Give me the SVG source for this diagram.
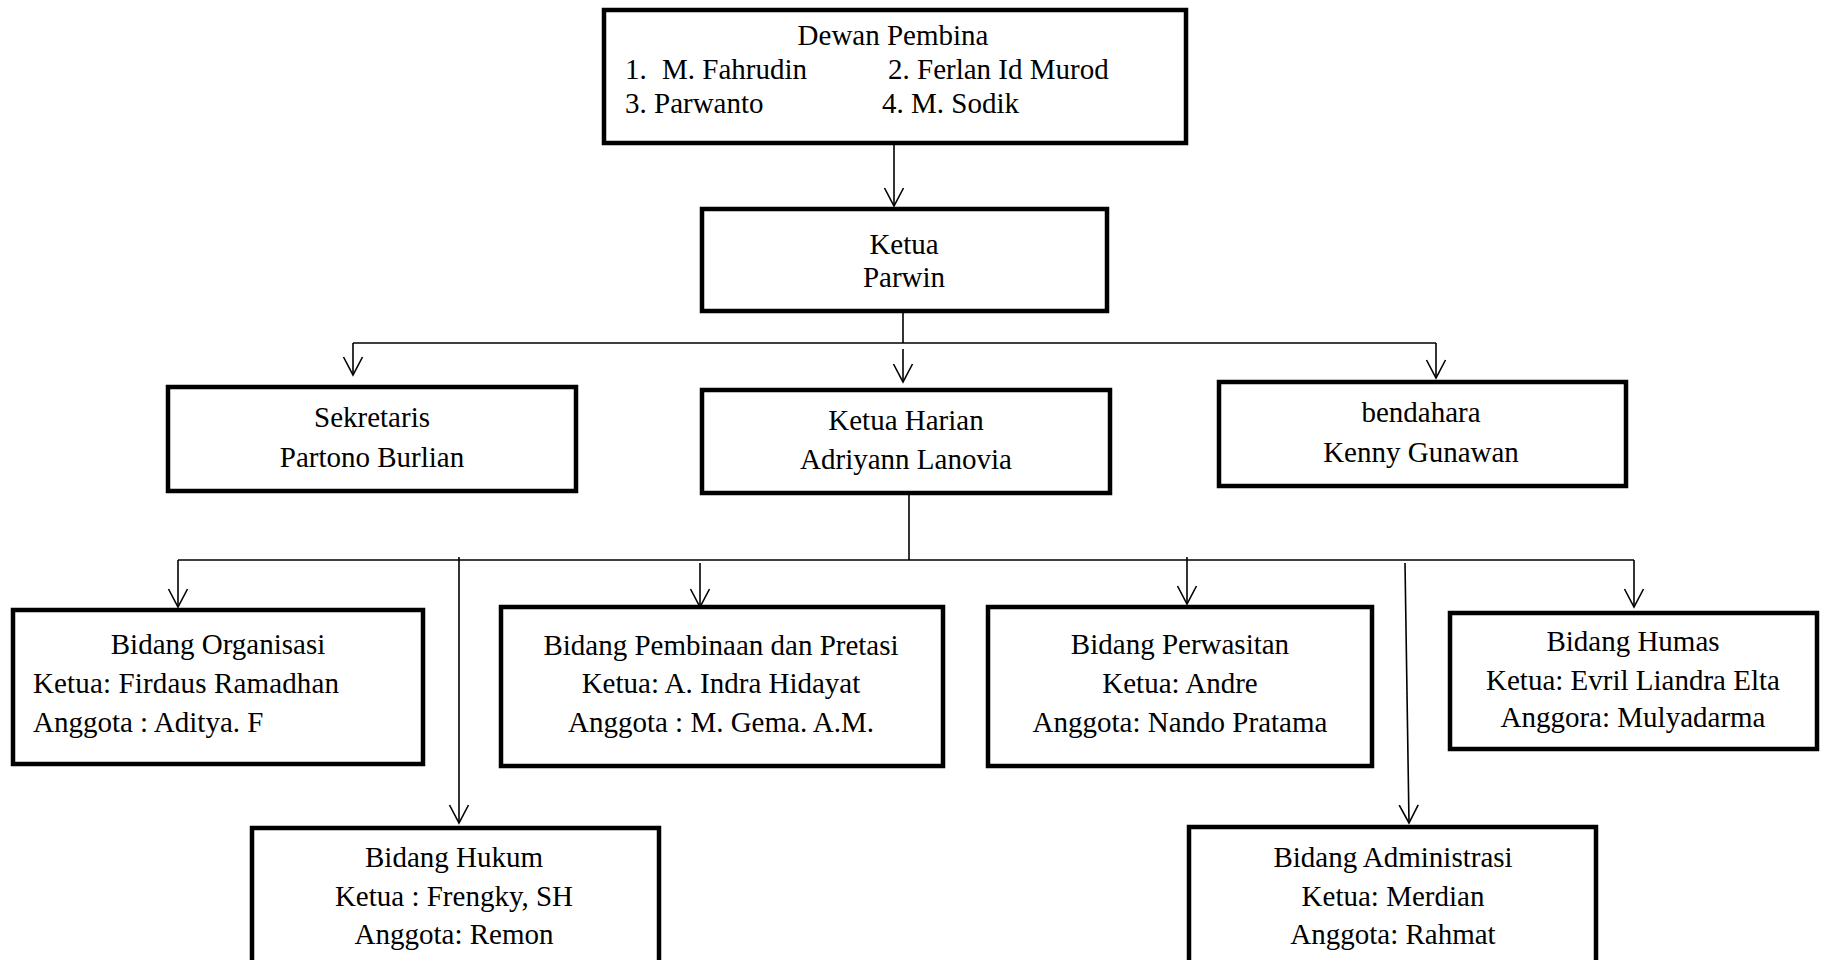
<svg xmlns="http://www.w3.org/2000/svg" width="1825" height="960" viewBox="0 0 1825 960">
<style>
.box{fill:#fff;stroke:#000;stroke-width:4.5}
.t{font-family:"Liberation Serif","Times New Roman",serif;font-size:29px;fill:#000}
.c{text-anchor:middle}
.ln{fill:none;stroke:#000;stroke-width:1.6}
</style>
<defs>
<marker id="ah" viewBox="-20 -11 22 22" markerWidth="22" markerHeight="22" refX="0" refY="0" orient="auto" markerUnits="userSpaceOnUse" overflow="visible">
<path d="M-18,-9.5 L0,0 L-18,9.5" fill="none" stroke="#000" stroke-width="1.6"/>
</marker>
</defs>
<rect width="1825" height="960" fill="#fff"/>
<g id="connectors">
<line class="ln" x1="894" y1="145" x2="894" y2="206" marker-end="url(#ah)"/>
<line class="ln" x1="903" y1="313" x2="903" y2="343"/>
<line class="ln" x1="353" y1="343" x2="1436" y2="343"/>
<line class="ln" x1="353" y1="343" x2="353" y2="375" marker-end="url(#ah)"/>
<line class="ln" x1="903" y1="349" x2="903" y2="382" marker-end="url(#ah)"/>
<line class="ln" x1="1436" y1="343" x2="1436" y2="378" marker-end="url(#ah)"/>
<line class="ln" x1="909" y1="495" x2="909" y2="560"/>
<line class="ln" x1="178" y1="560" x2="1634" y2="560"/>
<line class="ln" x1="178" y1="560" x2="178" y2="607" marker-end="url(#ah)"/>
<line class="ln" x1="700" y1="563" x2="700" y2="607" marker-end="url(#ah)"/>
<line class="ln" x1="1187" y1="557" x2="1187" y2="604" marker-end="url(#ah)"/>
<line class="ln" x1="1634" y1="560" x2="1634" y2="607" marker-end="url(#ah)"/>
<line class="ln" x1="459" y1="557" x2="459" y2="823" marker-end="url(#ah)"/>
<line class="ln" x1="1405" y1="563" x2="1409" y2="823" marker-end="url(#ah)"/>
</g>
<g id="dewan">
<rect class="box" x="604" y="10" width="582" height="133"/>
<text class="t c" x="893" y="45">Dewan Pembina</text>
<text class="t" y="79"><tspan x="625">1.</tspan><tspan x="662">M. Fahrudin</tspan><tspan x="888">2. Ferlan Id Murod</tspan></text>
<text class="t" y="113"><tspan x="625">3. Parwanto</tspan><tspan x="882">4. M. Sodik</tspan></text>
</g>
<g id="ketua">
<rect class="box" x="702" y="209" width="405" height="102"/>
<text class="t c" x="904" y="254">Ketua</text>
<text class="t c" x="904" y="287">Parwin</text>
</g>
<g id="sekretaris">
<rect class="box" x="168" y="387" width="408" height="104"/>
<text class="t c" x="372" y="427">Sekretaris</text>
<text class="t c" x="372" y="467">Partono Burlian</text>
</g>
<g id="ketua-harian">
<rect class="box" x="702" y="390" width="408" height="103"/>
<text class="t c" x="906" y="430">Ketua Harian</text>
<text class="t c" x="906" y="469">Adriyann Lanovia</text>
</g>
<g id="bendahara">
<rect class="box" x="1219" y="382" width="407" height="104"/>
<text class="t c" x="1421" y="422">bendahara</text>
<text class="t c" x="1421" y="462">Kenny Gunawan</text>
</g>
<g id="organisasi">
<rect class="box" x="13" y="610" width="410" height="154"/>
<text class="t c" x="218" y="654">Bidang Organisasi</text>
<text class="t" x="33" y="693" textLength="306">Ketua: Firdaus Ramadhan</text>
<text class="t" x="33" y="732">Anggota : Aditya. F</text>
</g>
<g id="pembinaan">
<rect class="box" x="501" y="607" width="442" height="159"/>
<text class="t c" x="721" y="655">Bidang Pembinaan dan Pretasi</text>
<text class="t c" x="721" y="693">Ketua: A. Indra Hidayat</text>
<text class="t c" x="721" y="732">Anggota : M. Gema. A.M.</text>
</g>
<g id="perwasitan">
<rect class="box" x="988" y="607" width="384" height="159"/>
<text class="t c" x="1180" y="654">Bidang Perwasitan</text>
<text class="t c" x="1180" y="693">Ketua: Andre</text>
<text class="t c" x="1180" y="732">Anggota: Nando Pratama</text>
</g>
<g id="humas">
<rect class="box" x="1450" y="613" width="367" height="136"/>
<text class="t c" x="1633" y="651">Bidang Humas</text>
<text class="t c" x="1633" y="690">Ketua: Evril Liandra Elta</text>
<text class="t c" x="1633" y="727">Anggora: Mulyadarma</text>
</g>
<g id="hukum">
<rect class="box" x="252" y="828" width="407" height="140"/>
<text class="t c" x="454" y="867">Bidang Hukum</text>
<text class="t c" x="454" y="906">Ketua : Frengky, SH</text>
<text class="t c" x="454" y="944">Anggota: Remon</text>
</g>
<g id="administrasi">
<rect class="box" x="1189" y="827" width="407" height="140"/>
<text class="t c" x="1393" y="867">Bidang Administrasi</text>
<text class="t c" x="1393" y="906">Ketua: Merdian</text>
<text class="t c" x="1393" y="944">Anggota: Rahmat</text>
</g>
</svg>
